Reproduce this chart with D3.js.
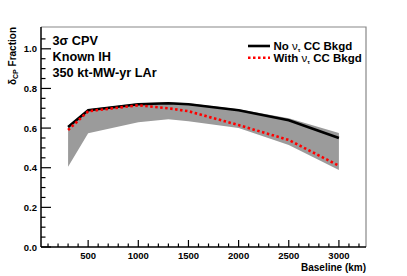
<!DOCTYPE html>
<html>
<head>
<meta charset="utf-8">
<script src="https://cdn.jsdelivr.net/npm/d3@7"></script>
<style>
  body { margin: 0; background: #fff; }
  text { font-family: "Liberation Sans", Arial, sans-serif; font-weight: bold; }
</style>
</head>
<body>
<div id="chart"></div>
<script>
// baselines (km) and fractions
var baselines = [300, 500, 1000, 1300, 1500, 2000, 2500, 3000];
var noTau     = [0.605, 0.69, 0.72, 0.725, 0.72, 0.69, 0.64, 0.55];
var withTau   = [0.59, 0.685, 0.715, 0.70, 0.685, 0.615, 0.54, 0.41];
var bandHigh  = [0.61, 0.695, 0.725, 0.73, 0.725, 0.695, 0.65, 0.575];
var bandLow   = [0.405, 0.574, 0.63, 0.645, 0.635, 0.60, 0.515, 0.389];

var xTicks = [500, 1000, 1500, 2000, 2500, 3000];
var yTicks = [0, 0.2, 0.4, 0.6, 0.8, 1.0];

var svgWidth = 407;
var svgHeight = 276;

var margin = { top: 27, right: 41, bottom: 29, left: 41 };
var width = svgWidth - margin.left - margin.right;
var height = svgHeight - margin.top - margin.bottom;

var svg = d3.select("#chart")
  .append("svg")
  .attr("width", svgWidth)
  .attr("height", svgHeight);

var chartGroup = svg.append("g")
  .attr("transform", `translate(${margin.left}, ${margin.top})`);

var xScale = d3.scaleLinear().domain([30, 3270]).range([0, width]);
var yScale = d3.scaleLinear().domain([0, 1.11]).range([height, 0]);

var rows = baselines.map((b, i) => ({ x: b, a: noTau[i], r: withTau[i], hi: bandHigh[i], lo: bandLow[i] }));

// grey band
chartGroup.append("path")
  .datum(rows)
  .attr("fill", "#9b9b9b")
  .attr("d", d3.area().x(d => xScale(d.x)).y0(d => yScale(d.lo)).y1(d => yScale(d.hi)));

// black line
chartGroup.append("path")
  .datum(rows)
  .attr("fill", "none")
  .attr("stroke", "#000")
  .attr("stroke-width", 2.6)
  .attr("d", d3.line().x(d => xScale(d.x)).y(d => yScale(d.a)));

// red dotted line
chartGroup.append("path")
  .datum(rows)
  .attr("fill", "none")
  .attr("stroke", "#ff0000")
  .attr("stroke-width", 2.6)
  .attr("stroke-dasharray", "2.5,2.5")
  .attr("d", d3.line().x(d => xScale(d.x)).y(d => yScale(d.r)));

// frame: grey top/right
chartGroup.append("path")
  .attr("fill", "none")
  .attr("stroke", "#888")
  .attr("stroke-width", 1.2)
  .attr("d", `M0,0H${width}V${height}`);

// x axis
var xAxis = chartGroup.append("g").attr("transform", `translate(0, ${height})`);
xAxis.append("line").attr("x1", 0).attr("x2", width).attr("stroke", "#000").attr("stroke-width", 1.5);
xAxis.selectAll(".minor")
  .data(d3.range(100, 3300, 100))
  .enter().append("line")
  .attr("x1", d => xScale(d)).attr("x2", d => xScale(d))
  .attr("y1", 0).attr("y2", d => (d % 500 === 0 ? -7 : -3.5))
  .attr("stroke", "#000").attr("stroke-width", 1.2);
xAxis.selectAll(".lbl")
  .data(xTicks)
  .enter().append("text")
  .attr("x", d => xScale(d))
  .attr("y", 11.5)
  .attr("text-anchor", "middle")
  .style("font-size", "9.5px")
  .text(d => d);

// y axis
var yAxis = chartGroup.append("g");
yAxis.append("line").attr("y1", 0).attr("y2", height).attr("stroke", "#000").attr("stroke-width", 1.5);
yAxis.selectAll(".minor")
  .data(d3.range(0, 22).map(i => i * 0.05))
  .enter().append("line")
  .attr("y1", d => yScale(d)).attr("y2", d => yScale(d))
  .attr("x1", 0).attr("x2", (d, i) => (i % 4 === 0 ? 10 : 4.5))
  .attr("stroke", "#000").attr("stroke-width", 1.2);
yAxis.selectAll(".lbl")
  .data(yTicks)
  .enter().append("text")
  .attr("x", -4)
  .attr("y", d => yScale(d) + 3.5)
  .attr("text-anchor", "end")
  .style("font-size", "9.5px")
  .text(d => d.toFixed(1));

// axis titles
svg.append("text")
  .attr("x", margin.left + width)
  .attr("y", 270.5)
  .attr("text-anchor", "end")
  .style("font-size", "10px")
  .text("Baseline (km)");

var yTitle = svg.append("text")
  .attr("transform", `translate(15.5, ${margin.top}) rotate(-90)`)
  .attr("text-anchor", "end")
  .style("font-size", "10px");
yTitle.append("tspan").text("\u03b4");
yTitle.append("tspan").attr("dy", 2.5).style("font-size", "7px").text("CP");
yTitle.append("tspan").attr("dy", -2.5).text(" Fraction");

// info text
var info = ["3\u03c3 CPV", "Known IH", "350 kt-MW-yr LAr"];
svg.selectAll(".info")
  .data(info)
  .enter().append("text")
  .attr("x", 52.5)
  .attr("y", (d, i) => 44.5 + i * 16)
  .style("font-size", "12.7px")
  .text(d => d);

// legend
var legendNames = [["No ", " CC Bkgd"], ["With ", " CC Bkgd"]];
var legend = svg.append("g");
legendNames.forEach(function(n, i) {
  var y = 46 + i * 11.8;
  legend.append("line")
    .attr("x1", 248).attr("x2", 270).attr("y1", y).attr("y2", y)
    .attr("stroke", i === 0 ? "#000" : "#ff0000")
    .attr("stroke-width", 2.6)
    .attr("stroke-dasharray", i === 0 ? null : "2.5,2.5");
  var t = legend.append("text")
    .attr("x", 273.5)
    .attr("y", y + 4)
    .style("font-size", "11.5px");
  t.append("tspan").text(n[0]);
  t.append("tspan").style("font-weight", "normal").text("\u03bd");
  t.append("tspan").attr("dy", 2).style("font-size", "6px").text("\u03c4");
  t.append("tspan").attr("dy", -2).text(n[1]);
});
</script>
</body>
</html>
